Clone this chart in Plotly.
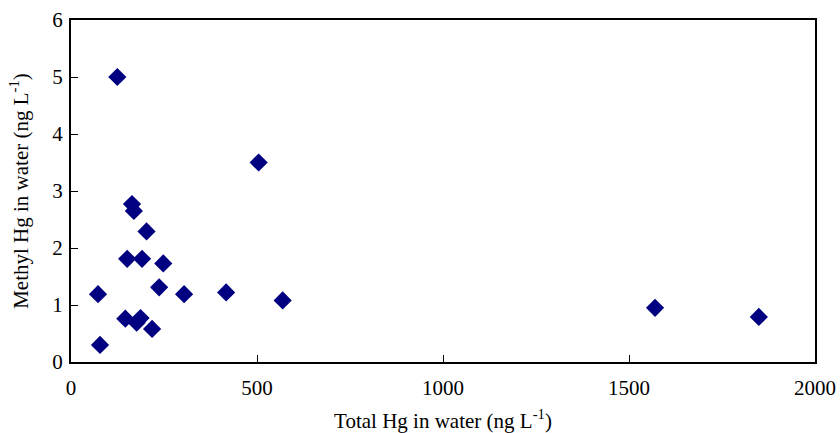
import plotly.graph_objects as go

total_hg = [124.5, 504.5, 164, 169, 203, 151, 191, 248, 72.6, 237, 304, 417, 569, 146, 176.5, 187, 218, 78, 1570, 1849]
methyl_hg = [5.0, 3.50, 2.77, 2.65, 2.29, 1.81, 1.81, 1.73, 1.19, 1.31, 1.19, 1.22, 1.08, 0.76, 0.69, 0.77, 0.58, 0.30, 0.95, 0.79]

x_ticks = [0, 500, 1000, 1500, 2000]
y_ticks = [0, 1, 2, 3, 4, 5, 6]

FONT = "Liberation Serif, Times New Roman, serif"

fig = go.Figure()
fig.add_trace(go.Scatter(
    x=total_hg, y=methyl_hg, mode="markers",
    marker=dict(symbol="diamond", size=14, color="#000080", line=dict(width=0)),
    showlegend=False,
))

axis_common = dict(
    showgrid=False, zeroline=False, showline=True, linecolor="black", linewidth=2,
    mirror=True, ticks="inside", ticklen=7, tickwidth=1, tickcolor="black",
    tickfont=dict(family=FONT, size=21, color="black"), automargin=False,
)

fig.update_layout(
    width=840, height=433,
    margin=dict(l=71, r=25, t=20, b=71),
    paper_bgcolor="white", plot_bgcolor="white",
    font=dict(family=FONT, color="black"),
    xaxis=dict(range=[0, 2000], tickvals=x_ticks, ticktext=[str(v) for v in x_ticks],
               title=dict(text="Total Hg in water (ng L<sup>-1</sup>)", font=dict(family=FONT, size=21), standoff=19),
               ticklabelstandoff=6, **axis_common),
    yaxis=dict(range=[0, 6], tickvals=y_ticks, ticktext=[str(v) for v in y_ticks],
               title=dict(text="Methyl Hg in water (ng L<sup>-1</sup>)", font=dict(family=FONT, size=21), standoff=18),
               ticklabelstandoff=2, **axis_common),
)

fig.write_html("out.html")
